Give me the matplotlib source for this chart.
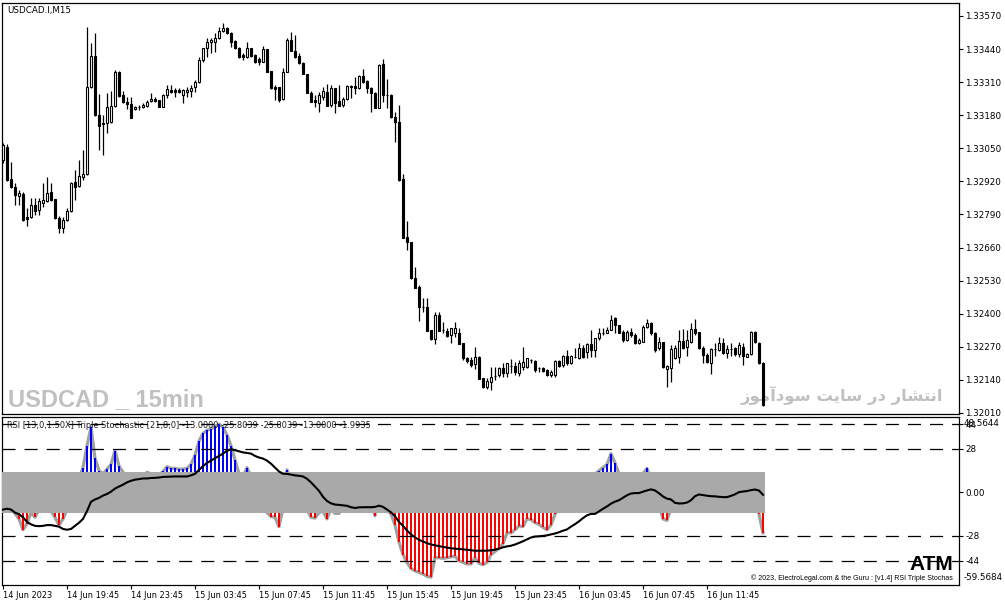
import numpy as np
import matplotlib
matplotlib.use('Agg')
import matplotlib.pyplot as plt

plt.rcParams['font.family'] = ['DejaVu Sans']
plt.rcParams['lines.scale_dashes'] = False

# USDCAD M15 candles, 14 Jun 15:45 -> 16 Jun 15:15
opens = [
    1.33004, 1.33055, 1.32930, 1.32898, 1.32863, 1.32871, 1.32780, 1.32780, 1.32827, 1.32808,
    1.32835, 1.32843, 1.32878, 1.32851, 1.32776, 1.32737, 1.32768, 1.32804, 1.32918, 1.32902,
    1.32937, 1.32949, 1.33291, 1.33413, 1.33181, 1.33150, 1.33150, 1.33154, 1.33216, 1.33350,
    1.33260, 1.33232, 1.33224, 1.33205, 1.33213, 1.33213, 1.33216, 1.33236, 1.33244, 1.33240,
    1.33213, 1.33260, 1.33279, 1.33279, 1.33279, 1.33260, 1.33271, 1.33275, 1.33291, 1.33311,
    1.33397, 1.33444, 1.33468, 1.33468, 1.33484, 1.33511, 1.33523, 1.33503, 1.33472, 1.33444,
    1.33417, 1.33409, 1.33444, 1.33417, 1.33401, 1.33389, 1.33440, 1.33354, 1.33291, 1.33291,
    1.33244, 1.33350, 1.33476, 1.33433, 1.33413, 1.33385, 1.33342, 1.33268, 1.33240, 1.33228,
    1.33252, 1.33271, 1.33220, 1.33287, 1.33236, 1.33220, 1.33244, 1.33291, 1.33295, 1.33287,
    1.33334, 1.33315, 1.33287, 1.33268, 1.33209, 1.33381, 1.33260, 1.33260, 1.33173, 1.33154,
    1.32930, 1.32702, 1.32682, 1.32541, 1.32505, 1.32426, 1.32426, 1.32336, 1.32301, 1.32395,
    1.32336, 1.32332, 1.32317, 1.32324, 1.32324, 1.32285, 1.32226, 1.32218, 1.32203, 1.32230,
    1.32148, 1.32112, 1.32132, 1.32155, 1.32159, 1.32187, 1.32167, 1.32195, 1.32195, 1.32167,
    1.32191, 1.32191, 1.32218, 1.32214, 1.32187, 1.32187, 1.32179, 1.32159, 1.32159, 1.32214,
    1.32199, 1.32234, 1.32206, 1.32230, 1.32226, 1.32265, 1.32250, 1.32281, 1.32258, 1.32305,
    1.32324, 1.32324, 1.32336, 1.32383, 1.32356, 1.32328, 1.32297, 1.32328, 1.32316, 1.32285,
    1.32289, 1.32348, 1.32364, 1.32324, 1.32265, 1.32289, 1.32183, 1.32187, 1.32226, 1.32230,
    1.32293, 1.32269, 1.32289, 1.32340, 1.32328, 1.32265, 1.32238, 1.32206, 1.32261, 1.32258,
    1.32285, 1.32246, 1.32261, 1.32265, 1.32242, 1.32269, 1.32230, 1.32242, 1.32328, 1.32285,
    1.32206,
]
highs = [
    1.33071, 1.33067, 1.32996, 1.32914, 1.32886, 1.32878, 1.32816, 1.32855, 1.32855, 1.32855,
    1.32914, 1.32937, 1.32914, 1.32851, 1.32784, 1.32780, 1.32816, 1.32918, 1.32965, 1.33004,
    1.33044, 1.33527, 1.33464, 1.33503, 1.33264, 1.33181, 1.33268, 1.33275, 1.33358, 1.33354,
    1.33275, 1.33252, 1.33252, 1.33216, 1.33220, 1.33228, 1.33240, 1.33268, 1.33252, 1.33240,
    1.33264, 1.33299, 1.33299, 1.33287, 1.33287, 1.33283, 1.33291, 1.33299, 1.33319, 1.33409,
    1.33444, 1.33484, 1.33484, 1.33503, 1.33527, 1.33543, 1.33527, 1.33507, 1.33476, 1.33448,
    1.33425, 1.33468, 1.33444, 1.33421, 1.33409, 1.33452, 1.33440, 1.33354, 1.33299, 1.33291,
    1.33366, 1.33484, 1.33507, 1.33495, 1.33425, 1.33389, 1.33342, 1.33275, 1.33260, 1.33271,
    1.33291, 1.33303, 1.33299, 1.33287, 1.33299, 1.33252, 1.33299, 1.33299, 1.33330, 1.33338,
    1.33362, 1.33319, 1.33291, 1.33271, 1.33381, 1.33401, 1.33323, 1.33264, 1.33193, 1.33220,
    1.32949, 1.32765, 1.32682, 1.32584, 1.32513, 1.32462, 1.32462, 1.32336, 1.32407, 1.32407,
    1.32368, 1.32344, 1.32344, 1.32368, 1.32344, 1.32285, 1.32230, 1.32230, 1.32269, 1.32234,
    1.32148, 1.32148, 1.32191, 1.32191, 1.32191, 1.32206, 1.32206, 1.32222, 1.32210, 1.32218,
    1.32269, 1.32226, 1.32222, 1.32218, 1.32191, 1.32191, 1.32183, 1.32179, 1.32218, 1.32218,
    1.32238, 1.32258, 1.32238, 1.32265, 1.32285, 1.32277, 1.32285, 1.32336, 1.32305, 1.32344,
    1.32344, 1.32348, 1.32395, 1.32387, 1.32356, 1.32336, 1.32336, 1.32344, 1.32324, 1.32305,
    1.32356, 1.32379, 1.32368, 1.32328, 1.32309, 1.32289, 1.32199, 1.32277, 1.32277, 1.32336,
    1.32340, 1.32336, 1.32364, 1.32379, 1.32328, 1.32273, 1.32246, 1.32265, 1.32285, 1.32309,
    1.32305, 1.32277, 1.32285, 1.32269, 1.32289, 1.32285, 1.32246, 1.32332, 1.32332, 1.32289,
    1.32210,
]
lows = [
    1.32992, 1.32922, 1.32894, 1.32827, 1.32827, 1.32765, 1.32745, 1.32776, 1.32788, 1.32788,
    1.32820, 1.32839, 1.32843, 1.32772, 1.32717, 1.32717, 1.32765, 1.32800, 1.32847, 1.32898,
    1.32926, 1.32945, 1.33287, 1.33177, 1.33044, 1.33024, 1.33110, 1.33150, 1.33213, 1.33252,
    1.33228, 1.33205, 1.33169, 1.33201, 1.33201, 1.33209, 1.33213, 1.33232, 1.33232, 1.33213,
    1.33213, 1.33248, 1.33268, 1.33252, 1.33268, 1.33228, 1.33252, 1.33252, 1.33271, 1.33307,
    1.33389, 1.33409, 1.33425, 1.33429, 1.33480, 1.33507, 1.33499, 1.33448, 1.33440, 1.33405,
    1.33397, 1.33405, 1.33409, 1.33385, 1.33378, 1.33389, 1.33350, 1.33283, 1.33240, 1.33232,
    1.33240, 1.33350, 1.33433, 1.33405, 1.33381, 1.33342, 1.33268, 1.33232, 1.33213, 1.33193,
    1.33240, 1.33216, 1.33213, 1.33189, 1.33216, 1.33213, 1.33240, 1.33248, 1.33264, 1.33283,
    1.33307, 1.33268, 1.33193, 1.33209, 1.33209, 1.33232, 1.33209, 1.33169, 1.33075, 1.32922,
    1.32698, 1.32651, 1.32537, 1.32501, 1.32371, 1.32407, 1.32332, 1.32297, 1.32281, 1.32332,
    1.32324, 1.32309, 1.32285, 1.32309, 1.32281, 1.32218, 1.32206, 1.32191, 1.32183, 1.32144,
    1.32108, 1.32104, 1.32100, 1.32140, 1.32151, 1.32151, 1.32151, 1.32167, 1.32159, 1.32155,
    1.32179, 1.32187, 1.32206, 1.32171, 1.32171, 1.32171, 1.32155, 1.32151, 1.32151, 1.32191,
    1.32191, 1.32199, 1.32203, 1.32226, 1.32222, 1.32226, 1.32226, 1.32230, 1.32230, 1.32297,
    1.32316, 1.32324, 1.32336, 1.32324, 1.32324, 1.32289, 1.32293, 1.32309, 1.32281, 1.32281,
    1.32289, 1.32344, 1.32316, 1.32250, 1.32258, 1.32187, 1.32112, 1.32132, 1.32222, 1.32206,
    1.32261, 1.32234, 1.32285, 1.32316, 1.32261, 1.32206, 1.32206, 1.32163, 1.32234, 1.32254,
    1.32242, 1.32226, 1.32234, 1.32234, 1.32230, 1.32199, 1.32230, 1.32238, 1.32285, 1.32203,
    1.32037,
]
closes = [
    1.33063, 1.32926, 1.32898, 1.32867, 1.32875, 1.32768, 1.32772, 1.32827, 1.32804, 1.32843,
    1.32847, 1.32875, 1.32847, 1.32776, 1.32737, 1.32768, 1.32804, 1.32914, 1.32898, 1.32941,
    1.32949, 1.33291, 1.33413, 1.33181, 1.33138, 1.33146, 1.33213, 1.33216, 1.33350, 1.33256,
    1.33232, 1.33224, 1.33169, 1.33213, 1.33213, 1.33220, 1.33232, 1.33244, 1.33236, 1.33213,
    1.33260, 1.33283, 1.33271, 1.33271, 1.33271, 1.33279, 1.33279, 1.33287, 1.33311, 1.33397,
    1.33444, 1.33468, 1.33476, 1.33484, 1.33511, 1.33523, 1.33503, 1.33468, 1.33444, 1.33409,
    1.33409, 1.33444, 1.33413, 1.33389, 1.33389, 1.33440, 1.33350, 1.33287, 1.33283, 1.33240,
    1.33350, 1.33476, 1.33433, 1.33409, 1.33385, 1.33342, 1.33268, 1.33232, 1.33232, 1.33260,
    1.33275, 1.33216, 1.33287, 1.33228, 1.33216, 1.33244, 1.33295, 1.33295, 1.33287, 1.33334,
    1.33311, 1.33287, 1.33268, 1.33209, 1.33378, 1.33260, 1.33260, 1.33173, 1.33154, 1.32926,
    1.32698, 1.32682, 1.32541, 1.32501, 1.32426, 1.32426, 1.32332, 1.32301, 1.32395, 1.32332,
    1.32336, 1.32313, 1.32344, 1.32344, 1.32281, 1.32226, 1.32214, 1.32199, 1.32230, 1.32144,
    1.32112, 1.32136, 1.32151, 1.32155, 1.32187, 1.32167, 1.32206, 1.32195, 1.32171, 1.32206,
    1.32210, 1.32226, 1.32218, 1.32179, 1.32187, 1.32175, 1.32159, 1.32171, 1.32214, 1.32195,
    1.32234, 1.32206, 1.32234, 1.32230, 1.32265, 1.32230, 1.32281, 1.32258, 1.32305, 1.32324,
    1.32324, 1.32336, 1.32375, 1.32356, 1.32324, 1.32297, 1.32328, 1.32316, 1.32285, 1.32297,
    1.32348, 1.32364, 1.32324, 1.32258, 1.32289, 1.32191, 1.32195, 1.32261, 1.32265, 1.32293,
    1.32265, 1.32297, 1.32340, 1.32324, 1.32265, 1.32238, 1.32210, 1.32261, 1.32261, 1.32285,
    1.32246, 1.32261, 1.32261, 1.32242, 1.32277, 1.32234, 1.32242, 1.32328, 1.32289, 1.32206,
    1.32041,
]

# RSI triple stochastic histogram and its slow signal line
hist = [
    -8, -9, -10, -13.5, -17, -24, -20, -13, -16, -11,
    -6, -4, -12, -16, -21, -17, -11, 2, 5, 9,
    16, 30, 42, 22, 14, 12, 15, 18, 27, 17,
    13, 10, 6, 8, 9, 10, 13, 12, 10, 11,
    13.5, 16.5, 15.5, 15.5, 15, 15, 15.5, 18, 24, 33,
    38, 40, 41, 42.5, 44, 42, 37, 30, 21, 12,
    10, 16, 10, 6, 2, -4, -13, -15.5, -16, -22,
    -10, 14.5, 8, 4, -3, -8, -11, -16, -16.5, -13,
    -12, -17, -10, -13.5, -13.5, -9, -6, -3, -2, 1,
    4, 2, -5, -15, 3, -2, -11, -14, -21, -32,
    -40, -45, -49, -50.5, -51.5, -52.5, -54, -54.5, -42, -42,
    -42.5, -42, -41.5, -41, -44, -45, -46, -46, -42, -45.5,
    -46.5, -45, -40, -38, -36, -33, -26, -26, -24, -21.5,
    -22, -17, -17.5, -19.5, -20.5, -22.5, -24, -21, -14, -10,
    -7, -4, 0, 3, 6, 8, 9, 11, 12, 14,
    16, 18, 25, 19, 12, 10, 9, 8, 10, 11,
    12, 15.5, 8, 2, -8, -17, -18, -10, -6, -2,
    3, 6, 8, 6, 4, 2, 0, 1, 2, 4,
    5, 3, 6, 8, 7, 5, 3, 5, 6, -14,
    -26,
]
signal = [
    -11, -10.5, -11, -13, -14, -16, -19, -20.5, -21.5, -21.7,
    -21.5, -21, -21, -21.5, -22, -23.5, -24, -23.5, -21.5, -19.5,
    -17, -12, -6, -4.5, -3.5, -2, -1, 0.5, 2.5, 3.8,
    5, 6.5, 7.5, 8.2, 8.6, 9, 9, 9.3, 9.4, 9.6,
    10, 10.1, 10.2, 10.3, 10.3, 10.3, 10.3, 11, 12, 14.5,
    17, 19, 20.5, 22, 23.5, 25, 26.8, 27.8, 27.2, 26.5,
    25.8, 25.4, 25, 23.5, 22.5, 21.8, 20.5, 18.5, 16, 13.5,
    12, 12, 11.5, 11, 10.7, 10.3, 8.8, 6.5, 3.7, 1,
    -2.8, -5.5, -7, -7.8, -8, -8.3, -8.6, -9.5, -10, -9.6,
    -9.5, -9.5, -9.5, -9.3, -8.5, -9.3, -11, -12.8, -15.3, -19,
    -21.5, -24.5, -27, -28.9, -30.5, -31.6, -32.6, -33.5, -34, -34.6,
    -35, -35.5, -35.9, -36.2, -36.4, -36.6, -36.9, -37.2, -37.5, -37.5,
    -37.5, -37.5, -37.2, -36.8, -36.2, -35.3, -34.7, -34.3, -33.5, -32.5,
    -31.4, -30.2, -29, -28.4, -28.2, -28, -27.6, -27, -26.4, -25.6,
    -24.6, -23.8, -22, -20.4, -18.6, -16.5, -14.7, -13.8, -13.8, -12.2,
    -10.5, -9, -7.2, -5.9, -5, -3.4, -1.8, -0.7, -0.4, -0.4,
    0.5, 1.3, 2, 1.3, -0.5, -2.6, -4, -4.5, -6.7, -7.1,
    -7, -6.5, -5, -2.4, -1.3, -1.7, -2.1, -2.4, -2.5, -2.8,
    -3, -3, -2.2, -1.2, 0.2, 0.6, 0.9, 1.5, 1.9, 1.2,
    -1.5,
]

time_ticks = [0, 16, 32, 48, 64, 80, 96, 112, 128, 144, 160, 176]
time_labels = ['14 Jun 2023', '14 Jun 19:45', '14 Jun 23:45', '15 Jun 03:45',
               '15 Jun 07:45', '15 Jun 11:45', '15 Jun 15:45', '15 Jun 19:45',
               '15 Jun 23:45', '16 Jun 03:45', '16 Jun 07:45', '16 Jun 11:45']
price_ticks = [1.33570, 1.33440, 1.33310, 1.33180, 1.33050, 1.32920, 1.32790,
               1.32660, 1.32530, 1.32400, 1.32270, 1.32140, 1.32010]
levels = [44, 28, -28, -44]
band = 13
ind_min, ind_max = -59.5684, 48.5644

W, H = 1005, 606


def fx(px):
    return px / W


def fy(py):
    return 1 - py / H


fig = plt.figure(figsize=(W / 100, H / 100), dpi=100)
ax = fig.add_axes([fx(2), fy(414), fx(957), 411 / H])
ax2 = fig.add_axes([fx(2), fy(585), fx(957), 168 / H])

x = np.arange(len(opens))
o = np.array(opens)
c = np.array(closes)
up = c >= o

# candles
ax.vlines(x, lows, highs, color='black', lw=0.9, zorder=2)
bot = np.minimum(o, c)
hgt = np.maximum(np.abs(c - o), 0.000004)
ax.bar(x[up], hgt[up], bottom=bot[up], width=0.5, facecolor='white',
       edgecolor='black', lw=0.8, zorder=3)
ax.bar(x[~up], hgt[~up], bottom=bot[~up], width=0.5, facecolor='black',
       edgecolor='black', lw=0.8, zorder=3)

ax.set_xlim(-0.25, 239)
ax.set_ylim(1.32006, 1.33621)
ax.yaxis.tick_right()
ax.set_yticks(price_ticks)
ax.set_yticklabels(['%.5f' % p for p in price_ticks])
ax.tick_params(axis='y', length=3, width=0.8, pad=1.5, labelsize=6.3)
ax.set_xticks([])

ax.text(fx(7), fy(10), 'USDCAD.I,M15', transform=fig.transFigure, fontsize=6.3,
        va='center', ha='left', color='black')
ax.text(fx(8), fy(406), 'USDCAD _ 15min', transform=fig.transFigure,
        family=['Liberation Sans', 'DejaVu Sans'],
        fontsize=17, fontweight='bold', color='#c0c0c0', ha='left', va='baseline', zorder=0.5)
# "انتشار در سایت سودآموز" written with shaped Arabic forms in display order
fa_text = '\uFEAF\uFEEE\uFEE3\uFE81\uFEA9\uFEEE\uFEB3 \uFE96\uFBFE\uFE8E\uFEB3 \uFEAD\uFEA9 \uFEAD\uFE8E\uFEB8\uFE98\uFEE7\uFE8D'
ax.text(fx(943), fy(401), fa_text, transform=fig.transFigure, fontsize=11.8,
        fontweight='bold', color='#c0c0c0', ha='right', va='baseline', zorder=0.5)

# indicator window
h = np.array(hist, dtype=float)
ax2.plot(x, h, color='#a0a0a0', lw=2.3, zorder=1, solid_joinstyle='round')
m = h > band
ax2.bar(x[m], h[m] - band, bottom=band, width=0.6, color='#0000ff', lw=0, zorder=2)
m = h < -band
ax2.bar(x[m], h[m] + band, bottom=-band, width=0.6, color='#ff0000', lw=0, zorder=2)
ax2.fill_between([-0.5, len(x) - 0.5], -band, band, color='#a9a9a9', lw=0, zorder=3)
for lv in levels:
    ax2.axhline(lv, color='black', lw=0.9, dashes=(9.4, 6.5), zorder=4)
ax2.plot(x, signal, color='black', lw=1.5, zorder=6)

ax2.set_xlim(-0.25, 239)
ax2.set_ylim(ind_min, ind_max)
ax2.yaxis.tick_right()
ax2.set_yticks([44, 28, 0, -28, -44])
ax2.set_yticklabels(['44', '28', '0.00', '-28', '-44'])
ax2.tick_params(axis='y', length=3, width=0.8, pad=1.5, labelsize=6.3)
tr = ax2.get_yaxis_transform()
ax2.text(1.0045, 44.2, '%.4f' % ind_max, transform=tr, fontsize=6.3, va='center', ha='left')
ax2.text(1.0045, -54.8, '%.4f' % ind_min, transform=tr, fontsize=6.3, va='center', ha='left')

ax2.set_xticks(time_ticks)
ax2.set_xticklabels(time_labels, ha='left')
ax2.tick_params(axis='x', length=3, width=0.8, pad=1.5, labelsize=5.9)

ax2.text(fx(7), fy(426), 'RSI [13,0,1.50X] Triple Stochastic [21,8,0] -13.0000 -25.8039 '
         '-25.8039 -13.0000 -1.9935', transform=fig.transFigure, fontsize=5.95,
         color='#202020', va='center', ha='left', zorder=3.5)
ax2.text(fx(953), fy(570), 'ATM', transform=fig.transFigure,
         family=['Liberation Sans', 'DejaVu Sans'], fontsize=15, fontweight='bold',
         color='black', ha='right', va='baseline', zorder=7)
ax2.text(fx(953), fy(578), '\u00a9 2023, ElectroLegal.com & the Guru : [v1.4] RSI Triple Stochas',
         transform=fig.transFigure, family=['Liberation Sans', 'DejaVu Sans'], fontsize=5,
         color='black', ha='right', va='center', zorder=7)

for a in (ax, ax2):
    for s in a.spines.values():
        s.set_linewidth(0.9)
        s.set_color('black')

fig.savefig('out.png', dpi=100, facecolor='white')
